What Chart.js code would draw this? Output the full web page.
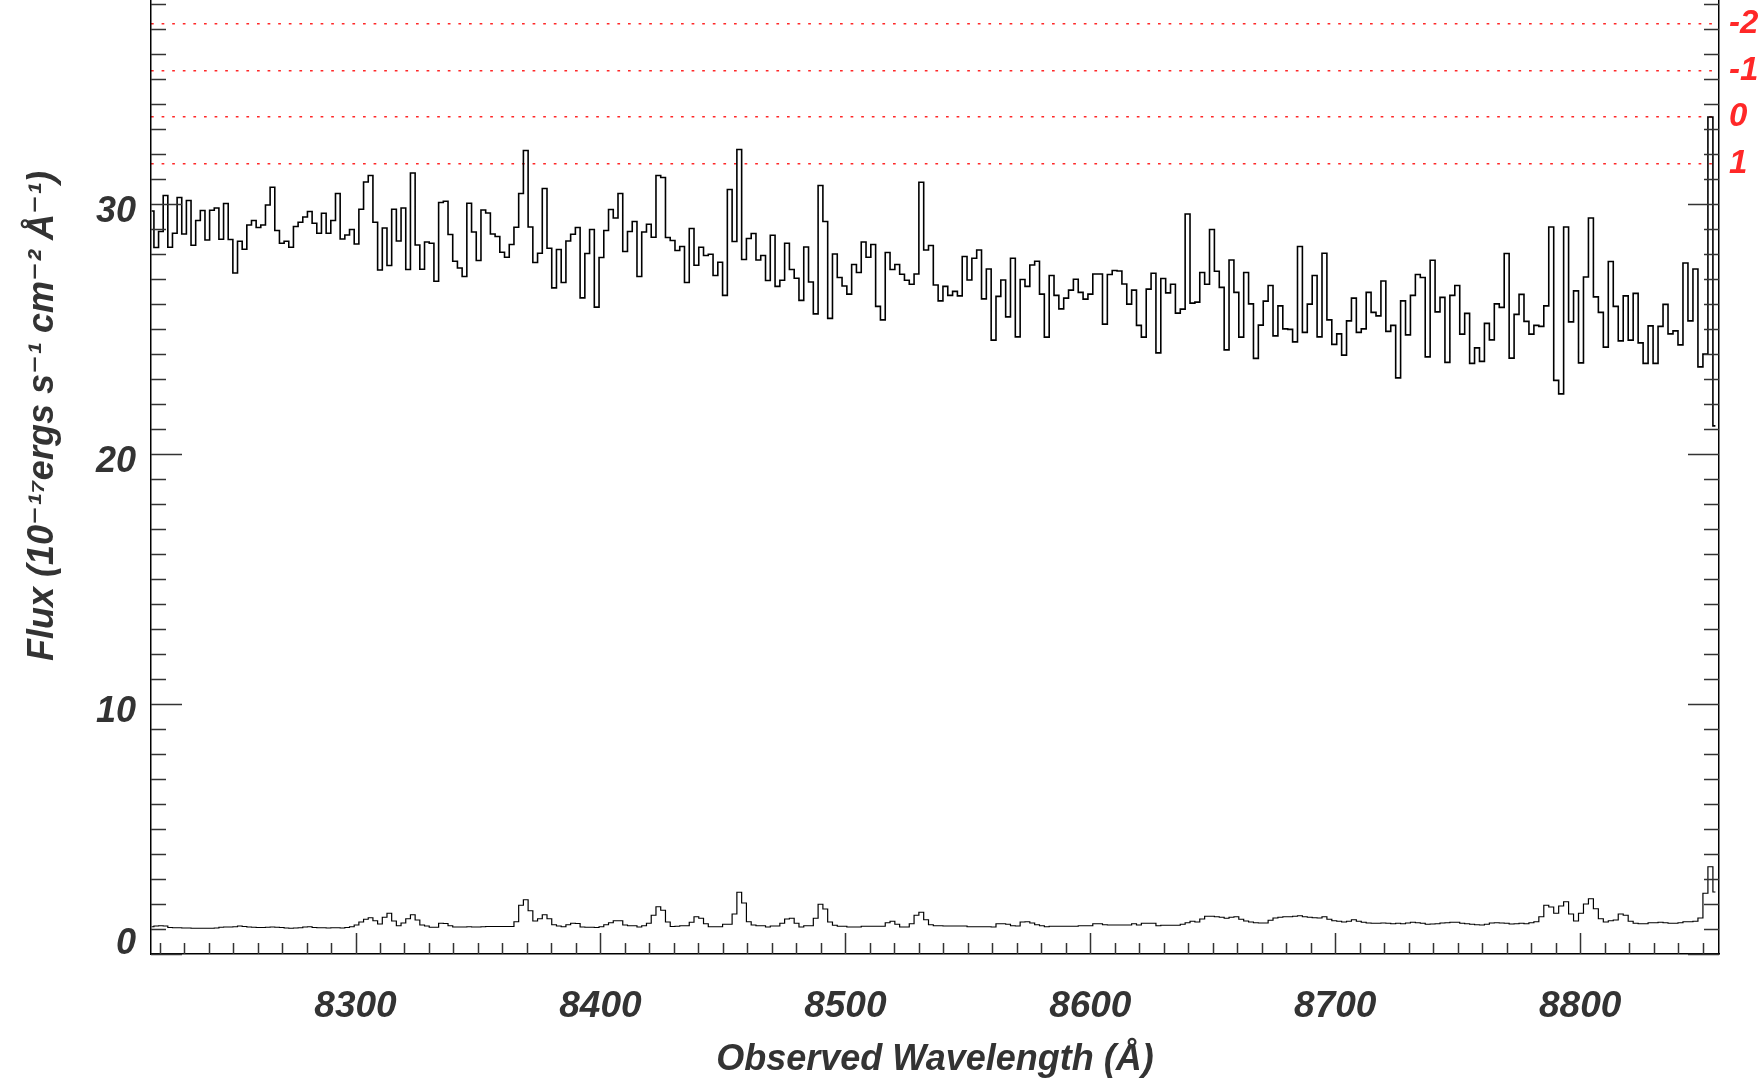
<!DOCTYPE html>
<html>
<head>
<meta charset="utf-8">
<script src="https://cdn.jsdelivr.net/npm/chart.js@4.4.1/dist/chart.umd.min.js"></script>
<style>
  html, body { margin: 0; padding: 0; background: #ffffff; overflow: hidden; }
  #wrap { width: 1762px; height: 1082px; }
</style>
</head>
<body>
<div id="wrap"><canvas id="c" width="1762" height="1082"></canvas></div>
<script>
// Wavelength grid of the spectrum (log-linear binning)
const logLambdaStart = 3.9147;
const logLambdaStep = 0.0001;

// Flux per bin (10^-17 ergs s^-1 cm^-2 Å^-1)
const flux = [
  29.73, 28.27, 28.91, 30.35, 28.28, 28.84, 30.27, 28.81, 30.15, 28.36,
  29.35, 29.75, 28.57, 29.76, 29.85, 28.60, 30.03, 28.59, 27.25, 28.52,
  28.20, 29.17, 29.35, 29.07, 29.17, 29.97, 30.68, 28.95, 28.44, 28.52,
  28.28, 29.11, 29.28, 29.49, 29.71, 29.24, 28.84, 29.64, 28.84, 29.35,
  30.43, 28.61, 28.77, 28.99, 28.41, 29.80, 30.89, 31.15, 29.28, 27.37,
  29.05, 27.55, 29.80, 28.53, 29.85, 27.39, 31.25,
  28.37, 27.40, 28.49, 28.44, 26.92, 30.07, 30.12, 28.79, 27.72, 27.45,
  27.11, 30.04, 28.89, 27.75, 29.77, 29.65, 28.81, 28.71, 28.08, 27.88,
  28.39, 29.08, 30.43, 32.15, 29.09, 27.67, 28.04, 30.63, 28.24, 26.65,
  28.19, 26.87, 28.53, 28.80, 29.07, 26.25, 28.03, 28.99, 25.88, 27.87,
  28.95, 29.79, 29.45, 30.43, 28.11, 28.91, 29.31, 27.11, 28.89, 29.20,
  28.68, 31.15, 31.07, 28.67, 28.55,
  28.15, 28.31, 26.87, 29.03, 27.56, 28.28, 27.95, 28.00, 27.15, 27.68,
  26.35, 30.59, 28.51, 32.19, 27.79, 28.63, 28.83, 27.77, 27.95, 26.95,
  28.76, 26.71, 26.96, 28.44, 27.39, 27.04, 26.15, 28.29, 26.89, 25.61,
  30.75, 29.31, 25.43, 28.01, 27.07, 26.73, 26.40, 27.59, 27.27, 28.49,
  27.88, 28.39, 25.91, 25.37, 28.07, 27.39, 27.59, 27.20, 26.96, 26.80,
  27.21, 30.88, 28.17, 28.35, 26.77,
  26.13, 26.71, 26.35, 26.51, 26.33, 27.91, 26.97, 27.84, 28.17, 26.21,
  27.41, 24.56, 26.31, 26.97, 25.49, 27.84, 24.69, 26.99, 26.71, 27.57,
  27.72, 26.40, 24.68, 27.15, 26.35, 25.81, 26.24, 26.56, 27.00, 26.47,
  26.20, 26.40, 27.21, 27.21, 25.20, 27.19, 27.35, 27.33, 26.81, 26.00,
  26.56, 25.15, 24.68, 26.60, 27.24, 24.05, 27.03, 26.45, 26.80, 25.64,
  25.80, 29.61, 26.04, 26.08,
  27.27, 26.80, 28.99, 27.32, 26.67, 24.17, 27.77, 26.47, 24.68, 27.27,
  26.01, 23.83, 25.16, 26.12, 26.75, 24.73, 25.93, 25.01, 24.99, 24.49,
  28.31, 24.87, 26.00, 27.15, 24.69, 28.04, 25.37, 24.39, 24.81, 23.96,
  25.33, 26.24, 24.87, 25.01, 26.47, 25.67, 25.53, 26.93, 24.91, 25.15,
  23.05, 26.13, 24.77, 26.35, 27.19, 27.07, 23.89, 27.76, 25.69, 26.27,
  23.67, 26.35, 26.75,
  24.80, 25.63, 23.63, 24.25, 23.71, 25.23, 24.57, 26.01, 25.87, 28.03,
  23.84, 25.59, 26.39, 25.31, 24.80, 25.15, 25.11, 25.93, 29.09, 22.95,
  22.41, 29.09, 25.29, 26.53, 23.65, 27.09, 29.45, 26.29, 25.67, 24.28,
  27.71, 25.91, 24.53, 26.33, 24.56, 26.43, 24.45, 23.63, 25.13, 23.63,
  25.11, 25.99, 24.81, 24.93, 24.37, 27.65, 25.33, 27.41, 23.49, 24.00,
  33.49, 21.13
];

// 1-sigma error per bin
const fluxError = [
  1.09, 1.12, 1.13, 1.12, 1.06, 1.05, 1.05, 1.04, 1.04, 1.03,
  1.03, 1.03, 1.03, 1.03, 1.04, 1.07, 1.08, 1.08, 1.09, 1.12,
  1.10, 1.08, 1.07, 1.06, 1.06, 1.07, 1.08, 1.07, 1.06, 1.04,
  1.03, 1.04, 1.05, 1.08, 1.09, 1.06, 1.05, 1.05, 1.04, 1.05,
  1.05, 1.04, 1.06, 1.09, 1.16, 1.28, 1.39, 1.45, 1.33, 1.20,
  1.47, 1.63, 1.32, 1.13, 1.24, 1.41, 1.57, 1.36, 1.16, 1.12,
  1.07, 1.07, 1.23, 1.22, 1.13, 1.08, 1.08, 1.08, 1.09, 1.08,
  1.08, 1.09, 1.10, 1.10, 1.10, 1.10, 1.10, 1.10, 1.29, 1.95,
  2.17, 1.73, 1.32, 1.41, 1.57, 1.41, 1.17, 1.12, 1.09, 1.17,
  1.23, 1.22, 1.08, 1.07, 1.07, 1.06, 1.09, 1.17, 1.25, 1.33,
  1.33, 1.16, 1.13, 1.13, 1.08, 1.13, 1.23, 1.55, 1.89, 1.75,
  1.28, 1.10, 1.11, 1.13, 1.13, 1.27, 1.49, 1.43, 1.21, 1.09,
  1.09, 1.09, 1.19, 1.19, 1.60, 2.47, 2.04, 1.29, 1.16, 1.13,
  1.13, 1.08, 1.12, 1.12, 1.23, 1.40, 1.43, 1.23, 1.08, 1.13,
  1.13, 1.43, 1.99, 1.80, 1.28, 1.15, 1.11, 1.11, 1.08, 1.08,
  1.08, 1.11, 1.11, 1.11, 1.11, 1.11, 1.25, 1.31, 1.19, 1.08,
  1.08, 1.21, 1.55, 1.67, 1.37, 1.17, 1.13, 1.13, 1.12, 1.12,
  1.12, 1.12, 1.12, 1.09, 1.09, 1.09, 1.09, 1.09, 1.08, 1.21,
  1.21, 1.19, 1.13, 1.12, 1.28, 1.29, 1.24, 1.17, 1.13, 1.09,
  1.11, 1.11, 1.11, 1.11, 1.11, 1.11, 1.13, 1.13, 1.13, 1.21,
  1.21, 1.17, 1.16, 1.16, 1.16, 1.16, 1.16, 1.21, 1.16, 1.23,
  1.23, 1.23, 1.13, 1.15, 1.15, 1.15, 1.15, 1.19, 1.25, 1.31,
  1.28, 1.40, 1.51, 1.51, 1.49, 1.47, 1.43, 1.47, 1.49, 1.39,
  1.32, 1.28, 1.25, 1.24, 1.24, 1.35, 1.44, 1.47, 1.49, 1.49,
  1.51, 1.53, 1.49, 1.47, 1.45, 1.44, 1.49, 1.39, 1.33, 1.31,
  1.28, 1.31, 1.37, 1.31, 1.27, 1.24, 1.23, 1.23, 1.24, 1.23,
  1.21, 1.23, 1.21, 1.24, 1.27, 1.25, 1.23, 1.19, 1.20, 1.21,
  1.24, 1.25, 1.27, 1.27, 1.23, 1.21, 1.19, 1.17, 1.16, 1.19,
  1.24, 1.25, 1.24, 1.23, 1.20, 1.21, 1.23, 1.21, 1.25, 1.29,
  1.49, 1.95, 1.88, 1.63, 1.92, 2.09, 1.60, 1.32, 1.63, 2.00,
  2.21, 1.81, 1.41, 1.28, 1.33, 1.36, 1.60, 1.55, 1.31, 1.23,
  1.21, 1.21, 1.25, 1.25, 1.27, 1.25, 1.23, 1.23, 1.25, 1.29,
  1.29, 1.31, 1.44, 2.43, 3.49, 2.48
];

// Axis ranges and ticks
const xRange = [8216.5, 8856.7];
const yRange = [0, 38.17];
const xMajorTicks = [8300, 8400, 8500, 8600, 8700, 8800];
const xMinorStep = 10;
const yMajorTicks = [0, 10, 20, 30];
const yMinorStep = 1;

// Red reference levels on the right
const refLevels = [31.62, 33.49, 35.35, 37.21];
const refLabels = ['1', '0', '-1', '-2'];

const xTitle = 'Observed Wavelength (Å)';
const yTitle = 'Flux (10⁻¹⁷ergs s⁻¹ cm⁻² Å⁻¹)';

const FONT = "'Liberation Sans', Arial, 'DejaVu Sans', sans-serif";
const TEXT = '#333333';
const RED = 'rgb(255,40,40)';

const wavelengths = flux.map((_, i) => Math.pow(10, logLambdaStart + i * logLambdaStep));
const fluxPts = flux.map((v, i) => ({ x: wavelengths[i], y: v }));
const errPts = fluxError.map((v, i) => ({ x: wavelengths[i], y: v }));

const inwardTicks = {
  id: 'inwardTicks',
  afterDraw(chart) {
    const { ctx, chartArea: { left, right, bottom }, scales: { x, y } } = chart;
    ctx.save();
    ctx.strokeStyle = '#333';
    ctx.lineWidth = 1.5;
    ctx.beginPath();
    for (let v = yRange[0]; v <= yRange[1]; v += yMinorStep) {
      const py = Math.round(y.getPixelForValue(v)) + 0.5;
      const len = yMajorTicks.includes(v) ? 31 : 15;
      ctx.moveTo(left, py); ctx.lineTo(left + len, py);
      ctx.moveTo(right, py); ctx.lineTo(right - len, py);
    }
    const x0 = Math.ceil(xRange[0] / xMinorStep) * xMinorStep;
    for (let v = x0; v <= xRange[1]; v += xMinorStep) {
      const px = Math.round(x.getPixelForValue(v)) + 0.5;
      const len = xMajorTicks.includes(v) ? 21 : 11;
      ctx.moveTo(px, bottom); ctx.lineTo(px, bottom - len);
    }
    ctx.stroke();
    ctx.restore();
  }
};

const chart = new Chart(document.getElementById('c'), {
  type: 'line',
  data: {
    datasets: [
      { label: 'Flux', data: fluxPts, stepped: 'middle', borderColor: '#000', borderWidth: 1.6, pointRadius: 0, fill: false },
      { label: 'Error', data: errPts, stepped: 'middle', borderColor: '#000', borderWidth: 1.2, pointRadius: 0, fill: false }
    ]
  },
  options: {
    responsive: false,
    animation: false,
    devicePixelRatio: 1,
    layout: { padding: 0 },
    plugins: { legend: { display: false }, tooltip: { enabled: false } },
    scales: {
      x: {
        type: 'linear', position: 'bottom', min: xRange[0], max: xRange[1],
        afterBuildTicks: s => { s.ticks = xMajorTicks.map(v => ({ value: v })); },
        ticks: { padding: 31, color: TEXT, maxRotation: 0, autoSkip: false,
                 font: { family: FONT, size: 37, weight: 'bold', style: 'italic' },
                 callback: v => String(v) },
        grid: { display: false, drawTicks: false },
        border: { display: true, color: '#000', width: 1.5 },
        title: { display: true, text: xTitle, color: TEXT, padding: { top: 0, bottom: 0 },
                 font: { family: FONT, size: 36, weight: 'bold', style: 'italic' } },
        afterFit: s => { s.height = 128; s.paddingLeft = 0; s.paddingRight = 0; }
      },
      y: {
        type: 'linear', position: 'left', min: yRange[0], max: yRange[1],
        afterBuildTicks: s => { s.ticks = yMajorTicks.map(v => ({ value: v })); },
        ticks: { padding: 15, labelOffset: 8, color: TEXT,
                 font: { family: FONT, size: 36, weight: 'bold', style: 'italic', lineHeight: 1 },
                 callback: v => (v === 0 ? ['0', ''] : String(v)) },
        grid: { display: false, drawTicks: false },
        border: { display: true, color: '#000', width: 1.5 },
        title: { display: true, text: yTitle, color: TEXT, padding: { top: 21, bottom: 0 },
                 font: { family: FONT, size: 36, weight: 'bold', style: 'italic' } },
        afterFit: s => {
          s.width = 151; s.paddingTop = 0; s.paddingBottom = 0;
          if (!s._titleShifted) {
            const orig = s.drawTitle.bind(s);
            s.drawTitle = function () { const c = this.ctx; c.save(); c.translate(0, -61); orig(); c.restore(); };
            s._titleShifted = true;
          }
        }
      },
      y2: {
        type: 'linear', position: 'right', min: yRange[0], max: yRange[1],
        afterBuildTicks: s => { s.ticks = refLevels.map(v => ({ value: v })); },
        ticks: { padding: 10, color: RED,
                 font: { family: FONT, size: 33, weight: 'bold', style: 'italic' },
                 callback: (v, i) => refLabels[i] },
        grid: { display: true, drawOnChartArea: true, drawTicks: false, color: RED, lineWidth: 1.5 },
        border: { display: true, color: '#000', width: 1.5, dash: [2.7, 7.9] },
        afterFit: s => { s.width = 43; s.paddingTop = 0; s.paddingBottom = 0; }
      }
    }
  },
  plugins: [inwardTicks]
});
</script>
</body>
</html>
